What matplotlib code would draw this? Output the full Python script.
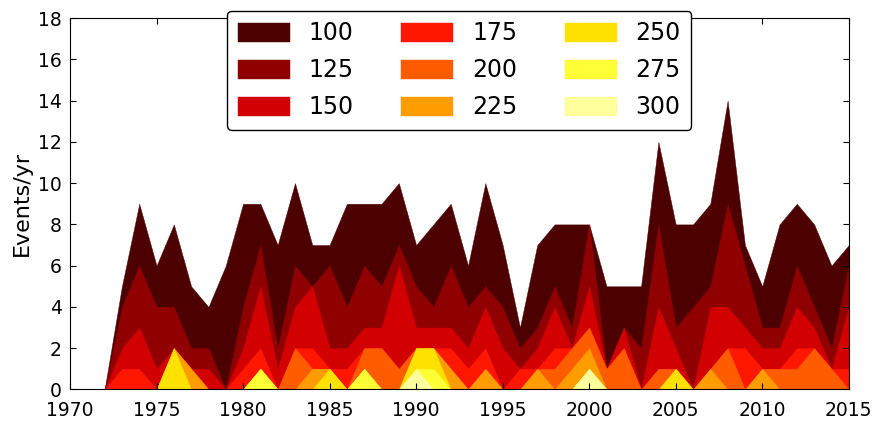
import numpy as np
import matplotlib
matplotlib.use("Agg")
import matplotlib.pyplot as plt

years = list(range(1972, 2016))

thresholds = [100, 125, 150, 175, 200, 225, 250, 275, 300]

n100 = [0, 5, 9, 6, 8, 5, 4, 6, 9, 9, 7, 10, 7, 7, 9, 9, 9, 10, 7, 8, 9, 6,
        10, 7, 3, 7, 8, 8, 8, 5, 5, 5, 12, 8, 8, 9, 14, 7, 5, 8, 9, 8, 6, 7]
n125 = [0, 4, 6, 4, 4, 2, 2, 0, 4, 7, 2, 6, 5, 6, 4, 6, 5, 7, 5, 4, 6, 4,
        5, 4, 2, 3, 5, 3, 8, 1, 3, 2, 8, 3, 4, 5, 9, 6, 3, 3, 6, 4, 2, 6]
n150 = [0, 2, 3, 1, 2, 1, 1, 0, 2, 5, 1, 4, 5, 2, 2, 3, 3, 6, 3, 3, 3, 2,
        4, 2, 1, 2, 4, 2, 5, 1, 3, 0, 4, 2, 0, 4, 4, 3, 2, 2, 4, 3, 1, 4]
n175 = [0, 1, 1, 0, 2, 1, 0, 0, 1, 2, 0, 2, 2, 1, 1, 2, 2, 1, 2, 2, 2, 1,
        2, 0, 1, 1, 2, 2, 3, 1, 2, 0, 1, 1, 0, 1, 2, 2, 1, 1, 2, 2, 1, 1]
n200 = [0, 0, 0, 0, 2, 1, 0, 0, 0, 1, 0, 2, 1, 1, 0, 2, 2, 1, 2, 2, 1, 0,
        1, 0, 0, 1, 1, 2, 3, 1, 2, 0, 1, 1, 0, 1, 2, 0, 1, 1, 1, 2, 1, 0]
n225 = [0, 0, 0, 0, 2, 1, 0, 0, 0, 1, 0, 0, 1, 1, 0, 1, 0, 0, 2, 2, 1, 0,
        1, 0, 0, 1, 0, 1, 2, 0, 0, 0, 0, 1, 0, 1, 0, 0, 1, 0, 0, 0, 0, 0]
n250 = [0, 0, 0, 0, 2, 0, 0, 0, 0, 1, 0, 0, 0, 1, 0, 1, 0, 0, 2, 2, 0, 0,
        0, 0, 0, 0, 0, 0, 1, 0, 0, 0, 0, 1, 0, 0, 0, 0, 0, 0, 0, 0, 0, 0]
n275 = [0, 0, 0, 0, 0, 0, 0, 0, 0, 1, 0, 0, 0, 0, 0, 1, 0, 0, 1, 1, 0, 0,
        0, 0, 0, 0, 0, 0, 1, 0, 0, 0, 0, 0, 0, 0, 0, 0, 0, 0, 0, 0, 0, 0]
n300 = [0, 0, 0, 0, 0, 0, 0, 0, 0, 0, 0, 0, 0, 0, 0, 0, 0, 0, 1, 0, 0, 0,
        0, 0, 0, 0, 0, 0, 1, 0, 0, 0, 0, 0, 0, 0, 0, 0, 0, 0, 0, 0, 0, 0]

series = [n100, n125, n150, n175, n200, n225, n250, n275, n300]
colors = plt.cm.hot(np.arange(1, 10) / 10.0)

fig = plt.figure(figsize=(8.75, 4.21), dpi=100)
ax = fig.add_axes([0.08, 0.075, 0.89, 0.882])

for t, vals, c in zip(thresholds, series, colors):
    ax.fill_between(years, 0, vals, facecolor=c, edgecolor=c, linewidth=0.3,
                    label=str(t))

ax.set_xlim(1970, 2015)
ax.set_ylim(0, 18)
ax.set_xticks(range(1970, 2016, 5))
ax.set_yticks(range(0, 19, 2))
ax.tick_params(direction="in", top=True, right=True, labelsize=13.5,
               length=4, width=0.8)
ax.tick_params(axis="x", pad=8)
ax.tick_params(axis="y", pad=6)
ax.set_ylabel("Events/yr", fontsize=16)

leg = ax.legend(loc="upper center", bbox_to_anchor=(0.5, 1.02), ncol=3,
                fontsize=17, fancybox=True, handlelength=2.2,
                handleheight=0.85, handletextpad=0.8, columnspacing=2.0,
                borderaxespad=0.0, labelspacing=0.55, borderpad=0.45)
leg.get_frame().set_edgecolor("black")
leg.get_frame().set_linewidth(1.0)
leg.get_frame().set_alpha(1.0)

fig.savefig("out.png", dpi=100)
